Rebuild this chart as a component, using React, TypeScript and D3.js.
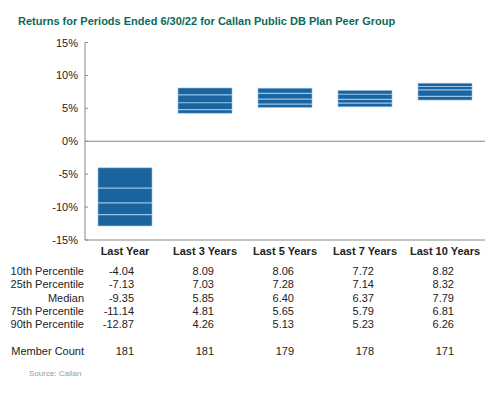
import * as d3 from 'd3';

const periods = ['Last Year', 'Last 3 Years', 'Last 5 Years', 'Last 7 Years', 'Last 10 Years'];
const p10 = [-4.04, 8.09, 8.06, 7.72, 8.82];
const p25 = [-7.13, 7.03, 7.28, 7.14, 8.32];
const median = [-9.35, 5.85, 6.4, 6.37, 7.79];
const p75 = [-11.14, 4.81, 5.65, 5.79, 6.81];
const p90 = [-12.87, 4.26, 5.13, 5.23, 6.26];
const memberCount = [181, 181, 179, 178, 171];
const yTicks = [15, 10, 5, 0, -5, -10, -15];

const rows = [
  { label: '10th Percentile', values: p10 },
  { label: '25th Percentile', values: p25 },
  { label: 'Median', values: median },
  { label: '75th Percentile', values: p75 },
  { label: '90th Percentile', values: p90 },
];

const font = 'Liberation Sans, Arial, sans-serif';
const boxColor = '#1a64a0';
const lineColor = '#9cc4e6';

export default function App() {
  const width = 500;
  const height = 398;
  const left = 85;
  const right = 485;

  const x = d3.scaleBand<string>().domain(periods).range([left, right]).paddingInner(0.325).paddingOuter(0.1625);
  const y = d3.scaleLinear().domain([-15, 15]).range([240, 42.5]);
  const fmt = (v: number) => d3.format('.2f')(v).replace('\u2212', '-');
  const rowY = d3.scalePoint<number>().domain(d3.range(rows.length)).range([271, 324]);

  return (
    <svg width={width} height={height} style={{ position: 'absolute', left: 0, top: 0 }} fontFamily={font}>
      <rect width={width} height={height} fill="#fff" />
      <text x={18} y={25} fontSize={11} fontWeight="bold" fill="#0b6a5a">
        Returns for Periods Ended 6/30/22 for Callan Public DB Plan Peer Group
      </text>

      {/* axis */}
      <line x1={left} x2={left} y1={y(15)} y2={y(-15)} stroke="#888" strokeWidth={1} />
      <line x1={left} x2={right} y1={y(0)} y2={y(0)} stroke="#888" strokeWidth={1} />
      <line x1={left} x2={right} y1={y(-15)} y2={y(-15)} stroke="#888" strokeWidth={1} />
      {yTicks.map((t) => (
        <g key={t}>
          <line x1={left} x2={left + 3} y1={y(t)} y2={y(t)} stroke="#888" />
          <text x={78} y={y(t) + 4} fontSize={11} textAnchor="end" fill="#222">
            {t}%
          </text>
        </g>
      ))}

      {/* boxes */}
      {periods.map((p, i) => {
        const x0 = x(p) ?? 0;
        const bw = x.bandwidth();
        return (
          <g key={p}>
            <rect
              x={x0}
              y={y(p10[i])}
              width={bw}
              height={y(p90[i]) - y(p10[i])}
              fill={boxColor}
              stroke={lineColor}
              strokeWidth={0.6}
            />
            {[p25[i], median[i], p75[i]].map((v, j) => (
              <line key={j} x1={x0} x2={x0 + bw} y1={y(v)} y2={y(v)} stroke={lineColor} strokeWidth={1.2} />
            ))}
            <text
              x={x0 + bw / 2}
              y={255}
              fontSize={11}
              fontWeight="bold"
              textAnchor="middle"
              fill="#222"
            >
              {p}
            </text>
          </g>
        );
      })}

      {/* table */}
      {rows.map((r, k) => (
        <g key={r.label} fontSize={11} fill="#222">
          <text x={84} y={rowY(k)! + 4} textAnchor="end">
            {r.label}
          </text>
          {periods.map((p, i) => (
            <text key={p} x={(x(p) ?? 0) + x.bandwidth() / 2 + 9} y={rowY(k)! + 4} textAnchor="end">
              {fmt(r.values[i])}
            </text>
          ))}
        </g>
      ))}
      <g fontSize={11} fill="#222">
        <text x={84} y={355} textAnchor="end">
          Member Count
        </text>
        {periods.map((p, i) => (
          <text key={p} x={(x(p) ?? 0) + x.bandwidth() / 2 + 9} y={355} textAnchor="end">
            {memberCount[i]}
          </text>
        ))}
      </g>
      <text x={29} y={376} fontSize={8} fill="#999">
        Source: Callan
      </text>
    </svg>
  );
}
